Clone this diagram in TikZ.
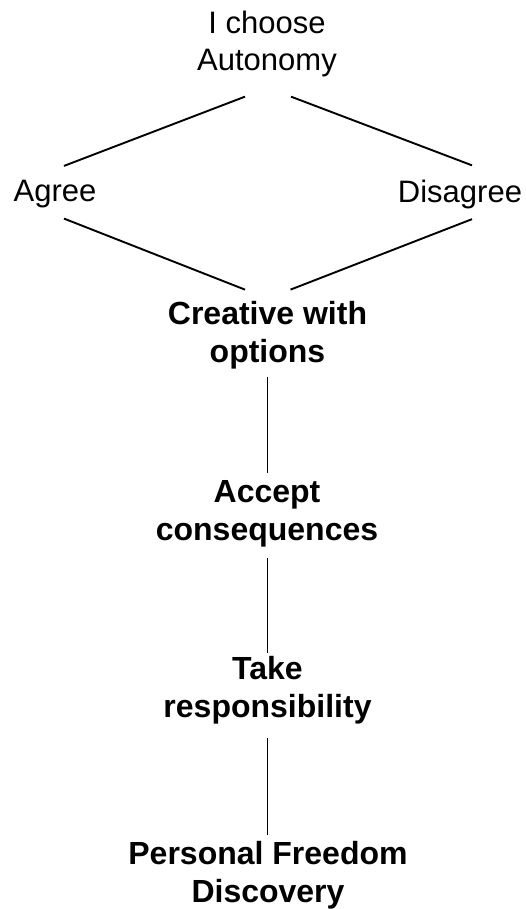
\documentclass[tikz,border=0pt]{standalone}
\usepackage{fontspec}
\setmainfont{Liberation Sans}
\usepackage{tikz}

\tikzset{
  lbl/.style={align=center, inner sep=0pt, font=\fontsize{31}{37}\selectfont},
  stage/.style={lbl, font=\fontsize{32}{37.5}\selectfont\bfseries},
  link/.style={line width=1.9pt}
}

\begin{document}
\begin{tikzpicture}[x=1pt,y=-1pt]
\useasboundingbox (0,0) rectangle (526,909);
% Choice
\node[lbl] (auto) at (267,44) {I choose\\Autonomy};
\node[lbl] (agree) at (55,194) {Agree};
\node[lbl] (disagree) at (460,194) {Disagree};
% Path
\node[stage] (creative) at (267.5,335) {Creative with\\options};
\node[stage] (accept) at (267,514) {Accept\\consequences};
\node[stage] (take) at (267.5,690) {Take\\responsibility};
\node[stage] (freedom) at (268,875) {Personal Freedom\\Discovery};
% Links
\draw[link] ([shift={(-22,19.5)}]auto.south) -- ([shift={(9,-14)}]agree.north);
\draw[link] ([shift={(24,19.5)}]auto.south) -- ([shift={(12,-14)}]disagree.north);
\draw[link] ([shift={(9,10.5)}]agree.south) -- ([shift={(-22.5,-11.5)}]creative.north);
\draw[link] ([shift={(12,10.5)}]disagree.south) -- ([shift={(23,-11.5)}]creative.north);
\draw[link] ([shift={(0,8.5)}]creative.south) -- ([shift={(0.5,-7.5)}]accept.north);
\draw[link] ([shift={(0.5,10.5)}]accept.south) -- ([shift={(0,-3.5)}]take.north);
\draw[link] ([shift={(0,14)}]take.south) -- ([shift={(-0.5,-6.5)}]freedom.north);
\end{tikzpicture}
\end{document}
